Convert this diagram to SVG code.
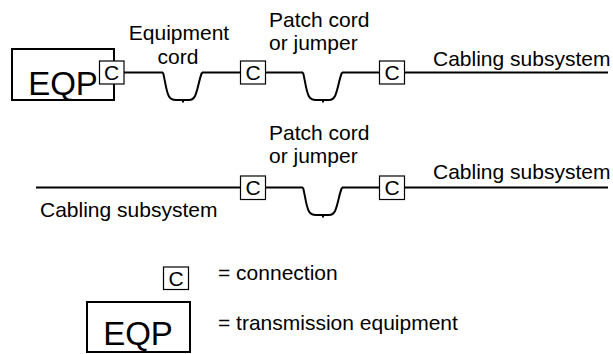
<svg xmlns="http://www.w3.org/2000/svg" width="613" height="354" viewBox="0 0 613 354">
<style>
text{font-family:"Liberation Sans",Arial,sans-serif;fill:#000}
.lbl{font-size:21px}
.ct{font-size:21px;text-anchor:middle}
.eq{font-size:33px;text-anchor:middle}
.cb{fill:#fff;stroke:#000;stroke-width:1.2}
.eb{fill:#fff;stroke:#000;stroke-width:2}
.wire{fill:none;stroke:#000;stroke-width:2}
</style>
<defs>
<path id="dip" d="M0,0 C2,7 3,19 6,24 Q8,27.5 13,27.5 H26 Q30,27.5 32,23.5 C35,17 36,7 39,0 M20,27.5 V30"/>
</defs>
<rect width="613" height="354" fill="#fff"/>
<g id="connectors" class="wire">
<path d="M124,72.5 H163 M202,72.5 H240.5 M265.5,72.5 H303 M342,72.5 H379.5 M404.5,72.5 H608"/>
<use href="#dip" x="163" y="72.5"/>
<use href="#dip" x="303" y="72.5"/>
<path d="M36,187.5 H240.5 M265.5,187.5 H303 M342,187.5 H379.5 M404.5,187.5 H608"/>
<use href="#dip" x="303" y="187.5"/>
</g>
<g id="eqp1">
<rect class="eb" x="12" y="49" width="102" height="51"/>
<text class="eq" x="63" y="95">EQP</text>
</g>
<g id="c1"><rect class="cb" x="99.5" y="61" width="24.5" height="23"/><text class="ct" x="111.7" y="80">C</text></g>
<g id="c2"><rect class="cb" x="240.5" y="61" width="25" height="23"/><text class="ct" x="253" y="80">C</text></g>
<g id="c3"><rect class="cb" x="379.5" y="61" width="25" height="23"/><text class="ct" x="392" y="80">C</text></g>
<g id="c4"><rect class="cb" x="240.5" y="176" width="25" height="23.5"/><text class="ct" x="253" y="195">C</text></g>
<g id="c5"><rect class="cb" x="379.5" y="176" width="25" height="23.5"/><text class="ct" x="392" y="195">C</text></g>
<g id="labels">
<text class="lbl" x="179" y="40" text-anchor="middle">Equipment</text>
<text class="lbl" x="178" y="64" text-anchor="middle">cord</text>
<text class="lbl" x="269" y="27">Patch cord</text>
<text class="lbl" x="269" y="50">or jumper</text>
<text class="lbl" x="433" y="66">Cabling subsystem</text>
<text class="lbl" x="269" y="140">Patch cord</text>
<text class="lbl" x="269" y="163">or jumper</text>
<text class="lbl" x="433" y="179">Cabling subsystem</text>
<text class="lbl" x="40" y="217">Cabling subsystem</text>
</g>
<g id="legend-connection">
<rect class="cb" x="163.5" y="267" width="25" height="22.5"/>
<text class="ct" x="176" y="286">C</text>
<text class="lbl" x="218" y="280">= connection</text>
</g>
<g id="legend-eqp">
<rect class="eb" x="87" y="302" width="103" height="50"/>
<text class="eq" x="138" y="345">EQP</text>
<text class="lbl" x="218" y="330">= transmission equipment</text>
</g>
</svg>
